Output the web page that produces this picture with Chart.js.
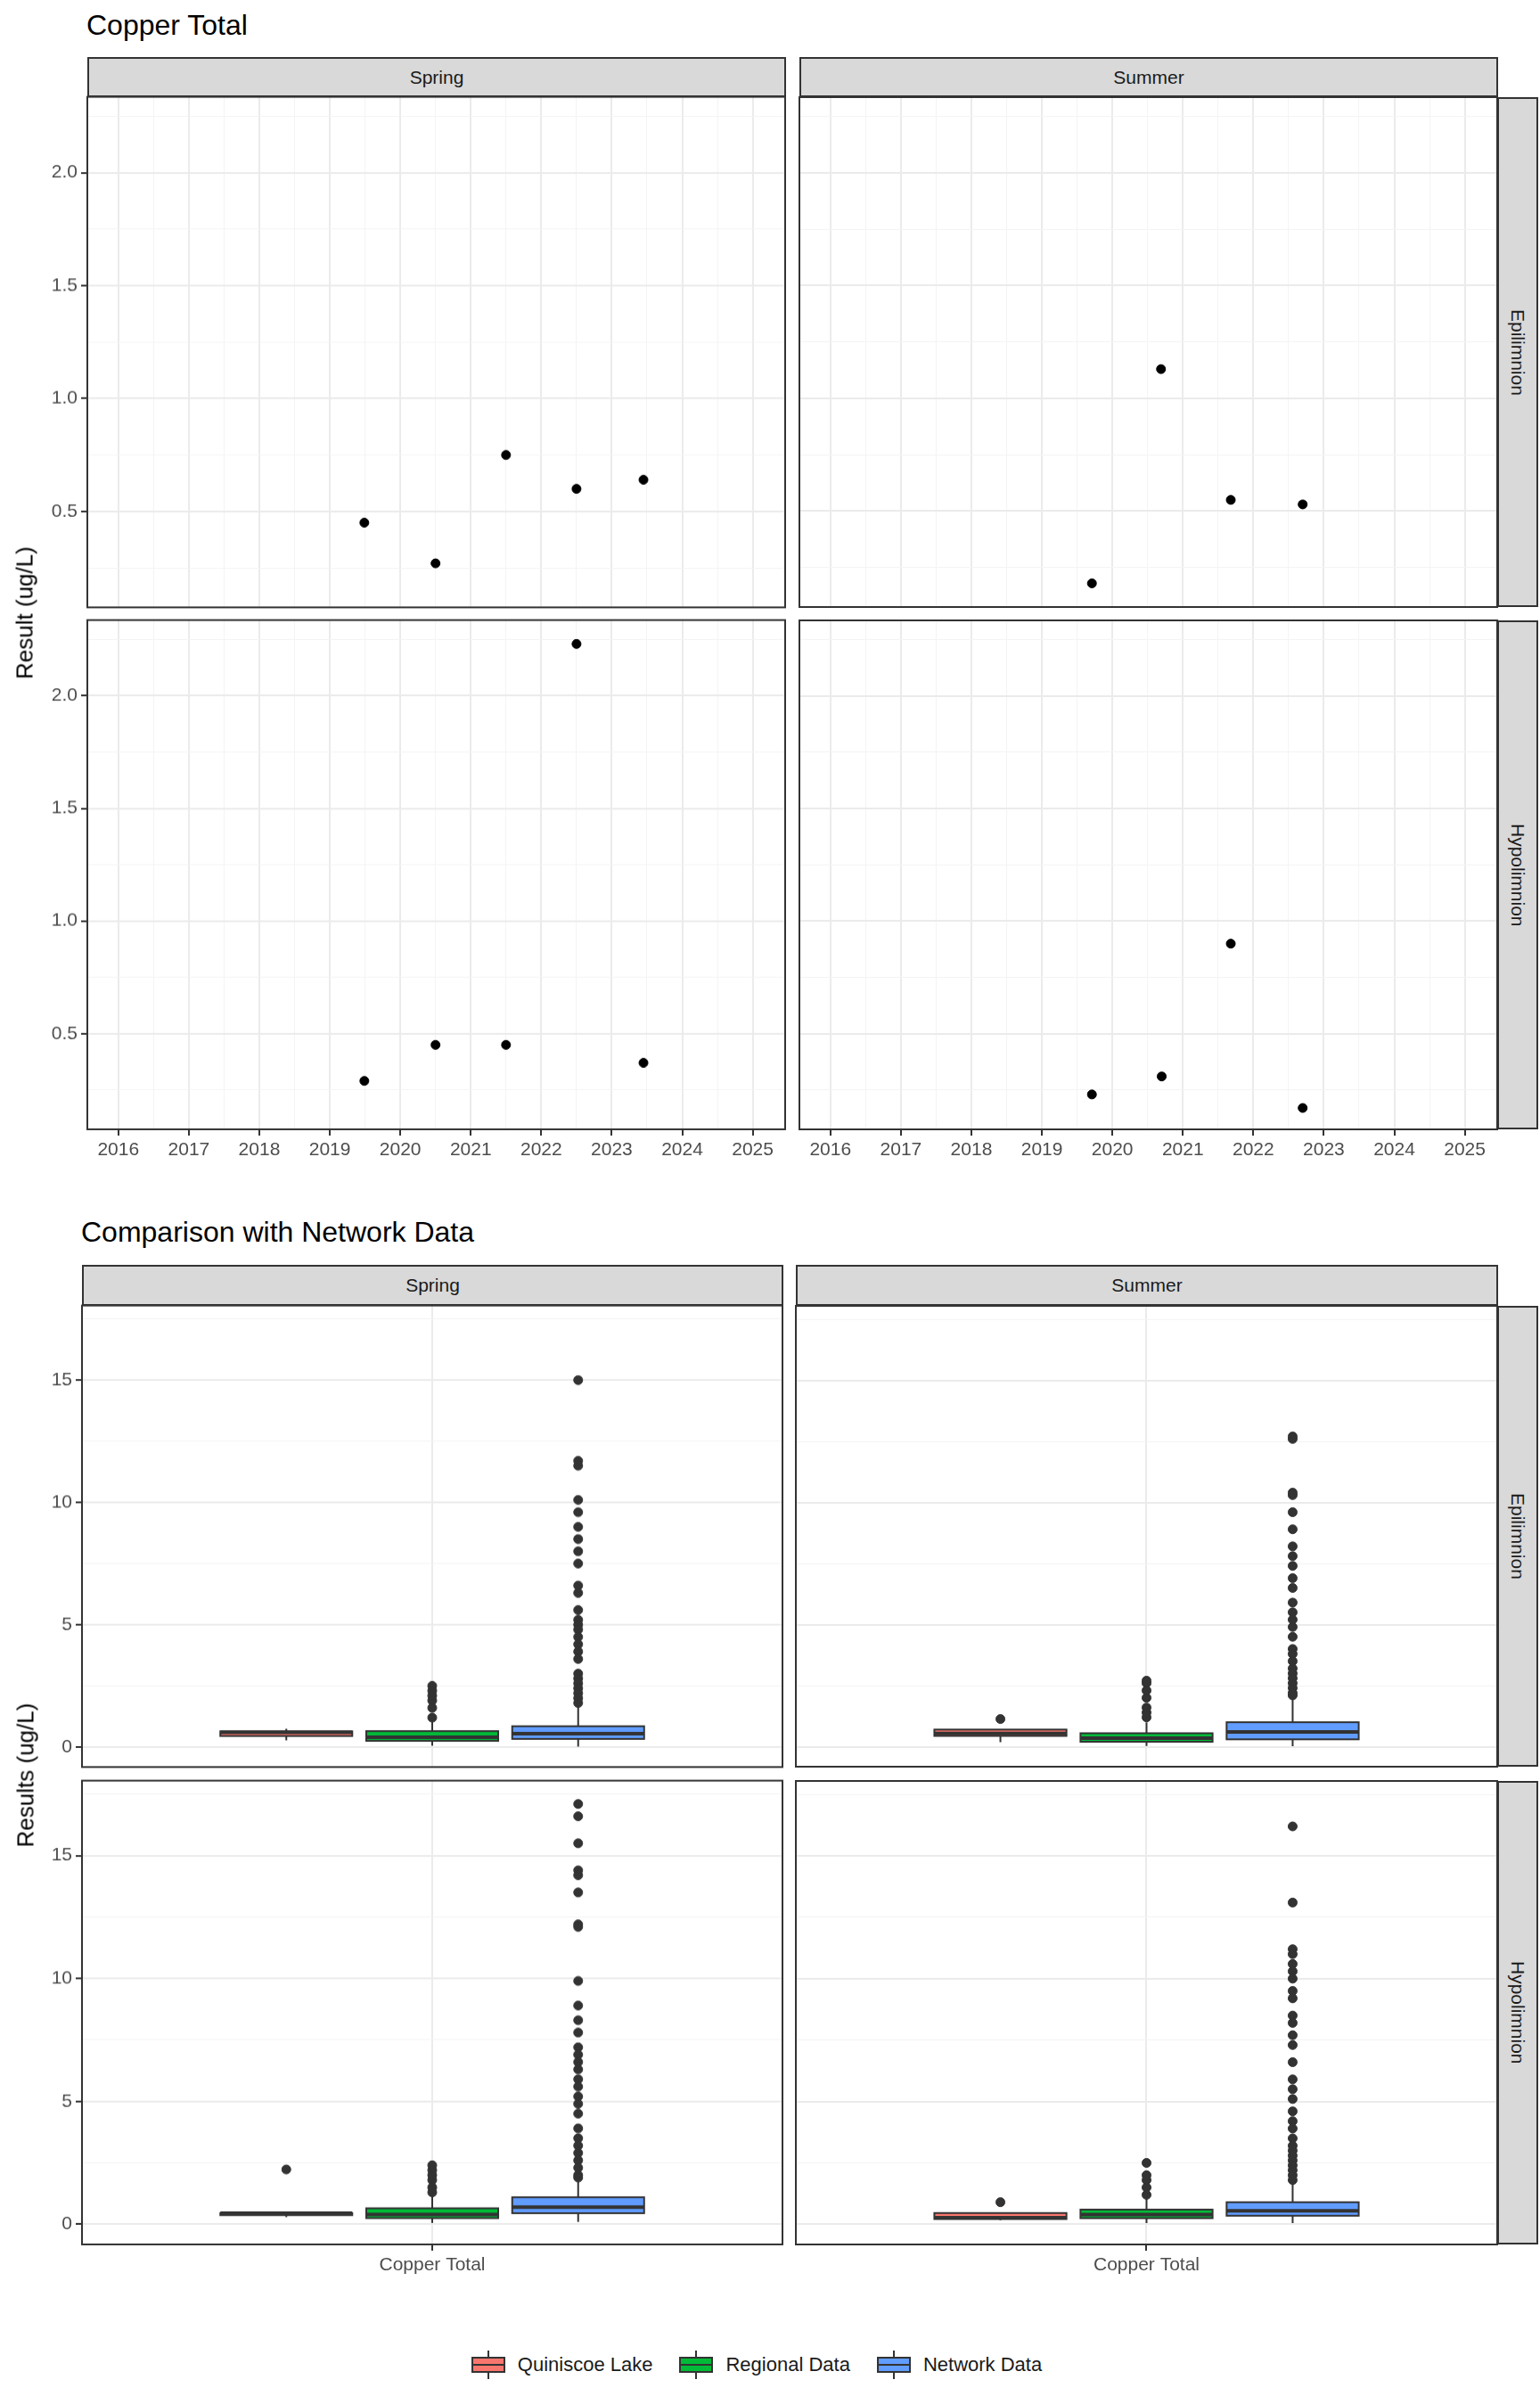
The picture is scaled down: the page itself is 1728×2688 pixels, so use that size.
<!DOCTYPE html>
<html>
<head>
<meta charset="utf-8">
<script src="https://cdn.jsdelivr.net/npm/chart.js@4"></script>
<style>
  body { margin:0; background:#fff; font-family: "Liberation Sans", Arial, sans-serif; }
  #page { position:relative; width:1728px; height:2688px; }
  canvas, .abs { position:absolute; }
  .title { font-size:32px; color:#000; }
  .strip { background:#D9D9D9; border:2px solid #333; box-sizing:border-box; color:#1a1a1a; font-size:21px;
           display:flex; align-items:center; justify-content:center; }
  .vtext { writing-mode:vertical-rl; }
  .ytitle { font-size:26px; color:#000; transform:rotate(-90deg); white-space:nowrap; transform-origin:center; }
  #legend { display:flex; gap:0; align-items:center; font-size:22px; color:#1a1a1a; }
  .key { position:relative; width:38px; height:22px; margin-right:14px; }
  .key .bx { position:absolute; left:0; top:2px; width:38px; height:18px; border:2px solid #333; box-sizing:border-box; }
  .key .md { position:absolute; left:0; top:10px; width:38px; height:2px; background:#333; }
  .key .wt { position:absolute; left:18px; top:-5px; width:2px; height:32px; background:#333; }
</style>
</head>
<body>
<div id="page"></div>
<script>
// ---- data ----
const seasons = ['Spring', 'Summer'];
const layers = ['Epilimnion', 'Hypolimnion'];
const years = [2016, 2017, 2018, 2019, 2020, 2021, 2022, 2023, 2024, 2025];

// top: sample dates (decimal year) and results, per season/layer
const springEpiX = [2019.49, 2020.5, 2021.5, 2022.5, 2023.45];
const springEpiY = [0.45, 0.27, 0.75, 0.60, 0.64];
const summerEpiX = [2019.71, 2020.69, 2021.68, 2022.7];
const summerEpiY = [0.18, 1.13, 0.55, 0.53];
const springHypoX = [2019.49, 2020.5, 2021.5, 2022.5, 2023.45];
const springHypoY = [0.29, 0.45, 0.45, 2.23, 0.37];
const summerHypoX = [2019.71, 2020.7, 2021.68, 2022.7];
const summerHypoY = [0.23, 0.31, 0.90, 0.17];

// bottom: groups and box stats [lowWhisker, q1, median, q3, highWhisker]
const groups = ['Quiniscoe Lake', 'Regional Data', 'Network Data'];
const groupColors = ['#F8766D', '#00BA38', '#619CFF'];
const springEpiBoxes = [[0.27, 0.45, 0.60, 0.64, 0.75], [0.05, 0.25, 0.40, 0.65, 1.1], [0.02, 0.33, 0.55, 0.85, 1.7]];
const summerEpiBoxes = [[0.18, 0.44, 0.54, 0.70, 0.55], [0.03, 0.20, 0.35, 0.55, 1.0], [0.02, 0.30, 0.60, 1.0, 2.0]];
const springHypoBoxes = [[0.29, 0.37, 0.45, 0.45, 0.45], [0.05, 0.25, 0.40, 0.65, 1.2], [0.1, 0.45, 0.70, 1.1, 1.8]];
const summerHypoBoxes = [[0.17, 0.215, 0.27, 0.46, 0.31], [0.05, 0.25, 0.40, 0.60, 1.1], [0.05, 0.35, 0.55, 0.90, 1.7]];
const springEpiOut = [[], [1.2, 1.6, 1.9, 2.1, 2.3, 2.5],
  [15.0, 11.7, 11.5, 10.1, 9.6, 9.0, 8.5, 8.0, 7.5, 6.6, 6.3, 5.6, 5.2, 5.0, 4.8, 4.5, 4.2, 3.9, 3.6, 3.0, 2.8, 2.6, 2.4, 2.2, 2.0, 1.8]];
const summerEpiOut = [[1.13], [1.2, 1.4, 1.6, 2.0, 2.3, 2.6, 2.7],
  [12.7, 12.6, 10.4, 10.3, 9.6, 8.9, 8.2, 7.8, 7.4, 6.9, 6.5, 5.9, 5.5, 5.2, 4.9, 4.5, 4.0, 3.8, 3.5, 3.2, 3.0, 2.8, 2.6, 2.4, 2.2, 2.1]];
const springHypoOut = [[2.23], [1.3, 1.5, 1.8, 2.0, 2.2, 2.4],
  [17.1, 16.6, 15.5, 14.4, 14.2, 13.5, 12.2, 12.1, 9.9, 8.9, 8.3, 7.8, 7.2, 6.9, 6.6, 6.3, 5.9, 5.6, 5.2, 4.9, 4.5, 3.9, 3.5, 3.2, 2.9, 2.6, 2.3, 2.0, 1.9]];
const summerHypoOut = [[0.90], [1.2, 1.5, 1.8, 2.0, 2.5],
  [16.2, 13.1, 11.2, 11.0, 10.6, 10.3, 10.0, 9.5, 9.2, 8.5, 8.2, 7.7, 7.3, 6.6, 5.9, 5.5, 5.1, 4.6, 4.2, 3.9, 3.5, 3.2, 3.0, 2.8, 2.6, 2.4, 2.2, 2.0, 1.8]];
const groupX = [0.75, 1.0, 1.25];

const yTopTicks = [0.25, 0.5, 0.75, 1.0, 1.25, 1.5, 1.75, 2.0, 2.25];
const xTopTicks = [2016, 2016.5, 2017, 2017.5, 2018, 2018.5, 2019, 2019.5, 2020, 2020.5, 2021, 2021.5,
  2022, 2022.5, 2023, 2023.5, 2024, 2024.5, 2025];
const yBotTicks = [0, 2.5, 5, 7.5, 10, 12.5, 15, 17.5];

// ---- layout helpers ----
const page = document.getElementById('page');
function div(cls, html, css) {
  const d = document.createElement('div');
  d.className = 'abs ' + cls;
  d.innerHTML = html;
  Object.assign(d.style, css);
  page.appendChild(d);
  return d;
}

const framePlugin = {
  id: 'frame',
  afterDraw(chart) {
    const a = chart.chartArea, c = chart.ctx;
    c.save(); c.strokeStyle = '#333'; c.lineWidth = 2;
    c.strokeRect(a.left, a.top, a.right - a.left, a.bottom - a.top);
    c.restore();
  }
};
const boxPlugin = {
  id: 'boxes',
  beforeDatasetsDraw(chart) {
    const boxes = chart.options.plugins.boxes.data;
    if (!boxes) return;
    const xs = chart.scales.x, ys = chart.scales.y, c = chart.ctx;
    c.save();
    boxes.forEach((b, i) => {
      const xc = xs.getPixelForValue(groupX[i]);
      const hw = xs.getPixelForValue(groupX[i] + 0.113) - xc;
      const [lo, q1, md, q3, hi] = b.map(v => ys.getPixelForValue(v));
      c.strokeStyle = '#333'; c.lineWidth = 2;
      c.beginPath(); c.moveTo(xc, lo); c.lineTo(xc, q1); c.moveTo(xc, q3); c.lineTo(xc, hi); c.stroke();
      c.fillStyle = groupColors[i];
      c.fillRect(xc - hw, q3, 2 * hw, q1 - q3);
      c.strokeRect(xc - hw, q3, 2 * hw, q1 - q3);
      c.lineWidth = 4;
      c.beginPath(); c.moveTo(xc - hw, md); c.lineTo(xc + hw, md); c.stroke();
    });
    c.restore();
  }
};

function axis(min, max, ticks, majorFn, labelFn, showLabels, size, isX) {
  return {
    type: 'linear', min, max,
    afterBuildTicks: s => { s.ticks = ticks.map(v => ({ value: v })); },
    afterFit: s => { if (isX) s.height = size; else s.width = size; },
    border: { display: false },
    grid: {
      drawTicks: showLabels, tickLength: 7,
      color: ctx => (ctx.tick && majorFn(ctx.tick.value)) ? '#EBEBEB' : '#F4F4F4',
      lineWidth: ctx => (ctx.tick && majorFn(ctx.tick.value)) ? 2 : 1,
      tickColor: ctx => (ctx.tick && majorFn(ctx.tick.value)) ? '#333' : 'rgba(0,0,0,0)',
      tickWidth: 2
    },
    ticks: {
      display: showLabels, autoSkip: false, maxRotation: 0, padding: 4,
      color: '#4D4D4D', font: { size: 21, family: '"Liberation Sans", Arial, sans-serif' },
      callback: v => majorFn(v) ? labelFn(v) : ''
    }
  };
}

function build(p, w, h, left, top) {
  const cv = document.createElement('canvas');
  cv.width = w; cv.height = h;
  Object.assign(cv.style, { left: left + 'px', top: top + 'px', width: w + 'px', height: h + 'px' });
  page.appendChild(cv);
  const chart = new Chart(cv, {
    type: 'scatter',
    data: { datasets: p.datasets },
    options: {
      responsive: false, animation: false, devicePixelRatio: 1,
      layout: { padding: 0 },
      plugins: { legend: { display: false }, tooltip: { enabled: false }, boxes: { data: p.boxes } },
      scales: { x: p.xAxis, y: p.yAxis }
    },
    plugins: [boxPlugin, framePlugin]
  });
  return { cv, chart };
}

// build once, measure where the plot area ended up, rebuild so it lands on the target box
function panel(p) {
  let w = p.w + p.padL, h = p.h + p.padB;
  let r = build(p, w, h, p.x - p.padL, p.y);
  const a = r.chart.chartArea;
  const inL = a.left, inT = a.top, inR = w - a.right, inB = h - a.bottom;
  r.chart.destroy(); r.cv.remove();
  build(p, p.w + inL + inR, p.h + inT + inB, p.x - inL, p.y - inT);
}

// ---- top section ----
div('title', 'Copper Total', { left: '97px', top: '10px' });
const topCols = [{ x: 98, w: 783 }, { x: 897, w: 783 }];
const topRows = [{ y: 109, h: 572 }, { y: 696, h: 571 }];
const topData = [[[springEpiX, springEpiY], [summerEpiX, summerEpiY]], [[springHypoX, springHypoY], [summerHypoX, summerHypoY]]];
topCols.forEach((c, ci) => div('strip', seasons[ci], { left: c.x + 'px', top: '64px', width: (c.w + 1) + 'px', height: '45px' }));
topRows.forEach((r, ri) => div('strip vtext', layers[ri], { left: '1680px', top: r.y + 'px', width: '46px', height: r.h + 'px' }));
topRows.forEach((r, ri) => topCols.forEach((c, ci) => {
  const [xs, ys] = topData[ri][ci];
  const padL = ci === 0 ? 98 : 0, padB = ri === 1 ? 50 : 0;
  panel({
    x: c.x, y: r.y, w: c.w, h: r.h, padL, padB,
    datasets: [{ data: xs.map((v, i) => ({ x: v, y: ys[i] })), backgroundColor: '#000', borderColor: '#000', pointRadius: 5 }],
    xAxis: axis(2015.56, 2025.46, xTopTicks, v => Number.isInteger(v), v => String(v), ri === 1, padB, true),
    yAxis: axis(0.075, 2.336, yTopTicks, v => Math.abs(v * 2 - Math.round(v * 2)) < 1e-9, v => v.toFixed(1), ci === 0, padL, false)
  });
}));
div('ytitle', 'Result (ug/L)', { left: '-52px', top: '672px', width: '160px', textAlign: 'center' });

// ---- bottom section ----
div('title', 'Comparison with Network Data', { left: '91px', top: '1364px' });
const botCols = [{ x: 92, w: 786 }, { x: 893, w: 787 }];
const botRows = [{ y: 1465, h: 517 }, { y: 1998, h: 520 }];
const botBoxes = [[springEpiBoxes, summerEpiBoxes], [springHypoBoxes, summerHypoBoxes]];
const botOut = [[springEpiOut, summerEpiOut], [springHypoOut, summerHypoOut]];
botCols.forEach((c, ci) => div('strip', seasons[ci], { left: c.x + 'px', top: '1419px', width: (c.w + 1) + 'px', height: '46px' }));
botRows.forEach((r, ri) => div('strip vtext', layers[ri], { left: '1680px', top: r.y + 'px', width: '46px', height: r.h + 'px' }));
botRows.forEach((r, ri) => botCols.forEach((c, ci) => {
  const outs = botOut[ri][ci];
  const pts = [];
  outs.forEach((arr, gi) => arr.forEach(v => pts.push({ x: groupX[gi], y: v })));
  const padL = ci === 0 ? 92 : 0, padB = ri === 1 ? 50 : 0;
  panel({
    x: c.x, y: r.y, w: c.w, h: r.h, padL, padB,
    boxes: botBoxes[ri][ci],
    datasets: [{ data: pts, backgroundColor: '#333', borderColor: '#333', pointRadius: 5 }],
    xAxis: axis(0.4, 1.6, [1], v => true, v => 'Copper Total', ri === 1, padB, true),
    yAxis: axis(-0.82, 18.05, yBotTicks, v => v % 5 === 0, v => String(v), ci === 0, padL, false)
  });
}));
div('ytitle', 'Results (ug/L)', { left: '-56px', top: '1976px', width: '170px', textAlign: 'center' });

// legend
const lg = div('', '', { left: '0px', top: '2640px', width: '1728px', display: 'flex', justifyContent: 'center' });
const inner = document.createElement('div');
inner.id = 'legend';
groups.forEach((g, i) => {
  inner.innerHTML += '<div class="key"><div class="wt"></div><div class="bx" style="background:' + groupColors[i] +
    '"></div><div class="md"></div></div><span style="margin-right:30px">' + g + '</span>';
});
lg.appendChild(inner);
</script>
</body>
</html>
